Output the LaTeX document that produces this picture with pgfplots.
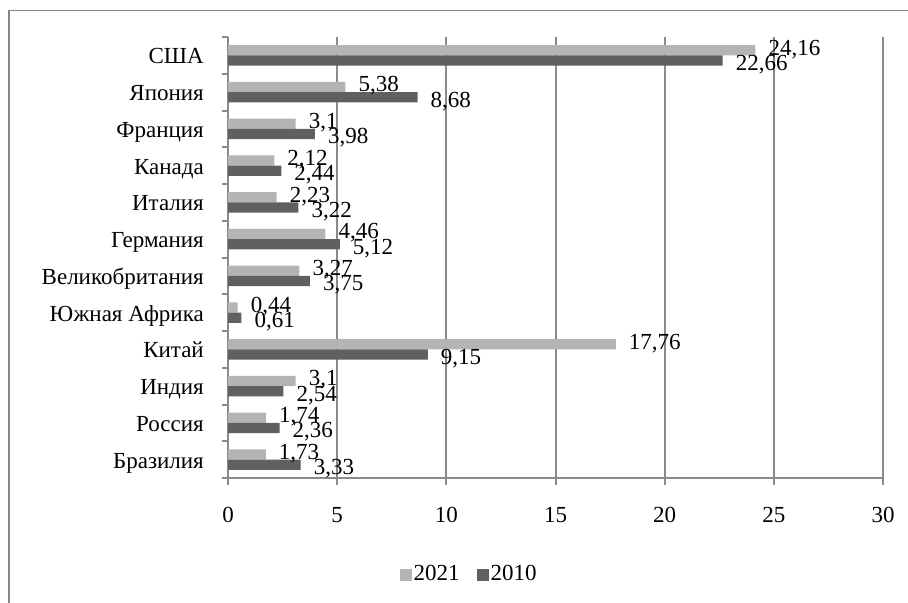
\documentclass[border=0pt]{standalone}
\usepackage{pgfplots}
\pgfplotsset{compat=1.18}
\usepackage{pgfplotstable}
\usepackage{fontspec}
\setmainfont{Liberation Serif}

\definecolor{barlight}{HTML}{B4B4B4}
\definecolor{bardark}{HTML}{606060}
\definecolor{gridgray}{HTML}{8A8A8A}
\definecolor{framegray}{HTML}{878787}

% ВВП, трлн долл.: y = позиция страны (снизу вверх)
\pgfplotstableread{
y   v2021  v2010
0   1.73   3.33
1   1.74   2.36
2   3.1    2.54
3   17.76  9.15
4   0.44   0.61
5   3.27   3.75
6   4.46   5.12
7   2.23   3.22
8   2.12   2.44
9   3.1    3.98
10  5.38   8.68
11  24.16  22.66
}\gdpdata

\begin{document}
\fontsize{23bp}{27bp}\selectfont
\begin{tikzpicture}
\path[use as bounding box] (0,0) rectangle (908bp,-603bp);
\draw[framegray, line width=1.5bp] (9bp,-603bp) -- (9bp,-10.5bp) -- (908bp,-10.5bp);
\begin{axis}[
  at={(228bp,-478bp)}, anchor=south west,
  scale only axis, width=655bp, height=441bp,
  xbar, bar width=10.3bp,
  xmin=0, xmax=30, ymin=-0.5, ymax=11.5,
  clip=false,
  xtick={0,5,...,30},
  ytick={0,...,11},
  yticklabels={Бразилия,Россия,Индия,Китай,Южная Африка,Великобритания,Германия,Италия,Канада,Франция,Япония,США},
  axis x line*=bottom, axis y line*=left,
  axis line style={-, gridgray, line width=2bp},
  xmajorgrids, major grid style={gridgray, line width=2bp},
  tick align=outside, major tick length=7bp,
  x tick style={gridgray, line width=2bp},
  y tick style={draw=none},
  extra y ticks={-0.5,0.5,...,11.5},
  extra y tick labels={},
  extra y tick style={y tick style={draw=gridgray, line width=2bp}, major tick length=6bp},
  /pgf/number format/.cd, use comma, assume math mode=true, /pgfplots/.cd,
  xticklabel style={inner sep=0pt, anchor=north, yshift=-22bp},
  yticklabel style={inner sep=0pt, anchor=base east, xshift=-17bp, yshift=-8.6bp},
  point meta=x,
  every node near coord/.append style={inner sep=0pt, anchor=base west, xshift=13bp, text=black},
  legend style={at={(0.368,-0.22)}, anchor=center, draw=none, fill=none,
    legend columns=2, /tikz/every even column/.append style={column sep=15bp},
    nodes={inner sep=2bp}},
  legend image code/.code={\fill[#1] (0bp,-6bp) rectangle (12bp,6bp);},
]
\addplot[fill=barlight, draw=none, bar shift=5.15bp, nodes near coords,
  every node near coord/.append style={yshift=-4.8bp}]
  table[x=v2021, y=y]{\gdpdata};
\addlegendentry{2021}
\addplot[fill=bardark, draw=none, bar shift=-5.15bp, nodes near coords,
  every node near coord/.append style={yshift=-9.8bp}]
  table[x=v2010, y=y]{\gdpdata};
\addlegendentry{2010}
\end{axis}
\end{tikzpicture}
\end{document}
